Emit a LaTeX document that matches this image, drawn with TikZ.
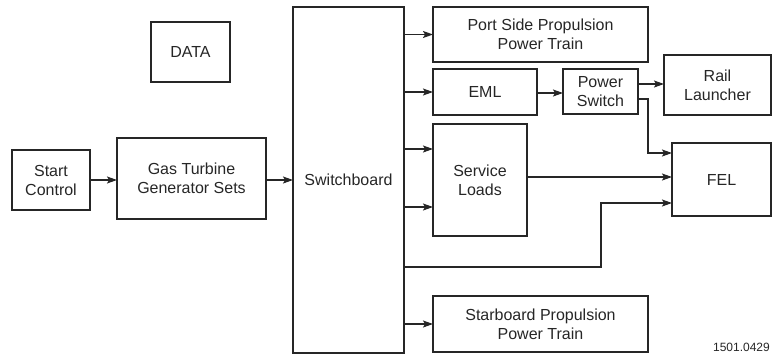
\documentclass[tikz,border=0pt]{standalone}
\usepackage{fontspec}
\setmainfont{Liberation Sans}
\usetikzlibrary{arrows.meta}
\definecolor{ink}{HTML}{262626}
\begin{document}
\begin{tikzpicture}[x=1pt,y=-1pt,
  box/.style={draw=ink,line width=1.2pt,inner sep=0pt,outer sep=0pt,align=center,text=ink,
    font=\fontsize{16}{19}\selectfont},
  conn/.style={draw=ink,line width=1.2pt,-{Stealth[length=10pt,width=7pt,inset=2pt]}},
  wire/.style={draw=ink,line width=1.2pt}]
\useasboundingbox (0,0) rectangle (772,356);
\node[box,minimum width=78,minimum height=60] (start) at (51,180) {Start\\Control};
\node[box,minimum width=149,minimum height=81] (gt) at (191.5,178.5) {Gas Turbine\\Generator Sets};
\node[box,minimum width=79,minimum height=60] (data) at (190.5,52) {DATA};
\node[box,minimum width=111,minimum height=346] (sw) at (348.5,180) {Switchboard};
\node[box,minimum width=215,minimum height=55] (port) at (540.5,34.5) {Port Side Propulsion\\Power Train};
\node[box,minimum width=104,minimum height=46] (eml) at (485,92) {EML};
\node[box,minimum width=75,minimum height=45] (ps) at (600.5,91.5) {Power\\Switch};
\node[box,minimum width=107,minimum height=60] (rail) at (717.5,85) {Rail\\Launcher};
\node[box,minimum width=94,minimum height=112] (sl) at (480,180) {Service\\Loads};
\node[box,minimum width=99,minimum height=73] (fel) at (721.5,179.5) {FEL};
\node[box,minimum width=215,minimum height=56] (star) at (540.5,324) {Starboard Propulsion\\Power Train};
\node[anchor=east,inner sep=0pt,text=ink,font=\fontsize{12}{13}\selectfont] (code) at (770,347) {1501.0429};
\coordinate (k1) at (648,99);
\coordinate (k2) at (601,267);
\draw[conn] (start.east) -- (gt.west |- start.east);
\draw[conn] (gt.east |- start.east) -- (sw.west |- start.east);
\draw[conn] (sw.east |- port.west) -- (port.west);
\draw[conn] (sw.east |- eml.west) -- (eml.west);
\draw[conn] (sw.east |- 0,149) -- (sl.west |- 0,149);
\draw[conn] (sw.east |- 0,207) -- (sl.west |- 0,207);
\draw[conn] (sw.east |- star.west) -- (star.west);
\draw[conn] (eml.east |- 0,93) -- (ps.west |- 0,93);
\draw[conn] (ps.east |- 0,84) -- (rail.west |- 0,84);
\draw[conn] (ps.east |- k1) -- (k1) |- (fel.west |- 0,153);
\draw[conn] (sl.east |- 0,177) -- (fel.west |- 0,177);
\draw[conn] (sw.east |- k2) -- (k2) |- (fel.west |- 0,203);
\end{tikzpicture}
\end{document}
